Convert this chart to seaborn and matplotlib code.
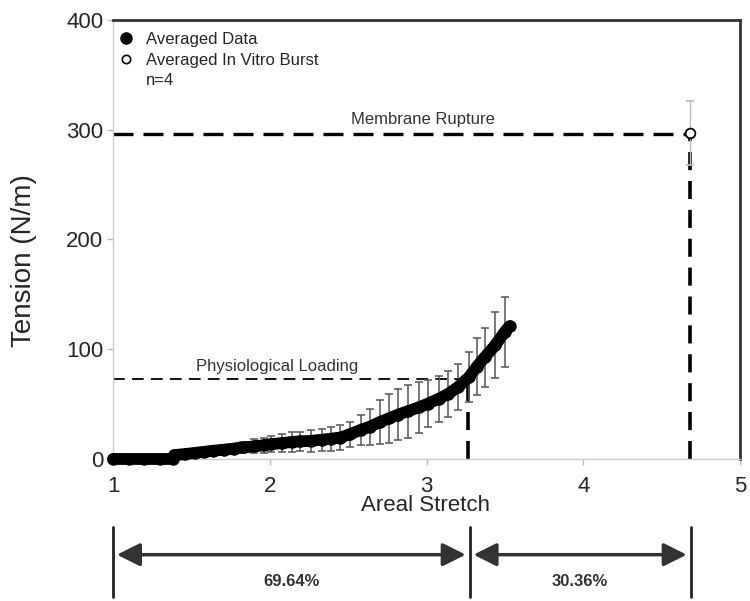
import numpy as np
import pandas as pd
import matplotlib.pyplot as plt
from matplotlib.lines import Line2D
import seaborn as sns

# averaged tension curve
stretch = [1.00, 1.10, 1.20, 1.30, 1.385, 1.39, 1.46,
           1.52, 1.58, 1.64, 1.71, 1.77, 1.83, 1.90, 1.96, 2.01, 2.08, 2.14,
           2.19, 2.26, 2.33, 2.39, 2.45, 2.51, 2.58, 2.64, 2.70, 2.76, 2.82,
           2.88, 2.95, 3.01, 3.08, 3.14, 3.20, 3.27, 3.32, 3.37, 3.44, 3.50, 3.53]
tension = [0, 0, 0, 0, 0, 3.5, 4.5,
           5.5, 6.5, 7.5, 8.5, 9.5, 10.5, 11.5, 12.5, 13.5, 14.5, 15.5,
           16, 16.5, 17.5, 18.5, 19.5, 22.5, 26.5, 29.5, 33.5, 37, 40.5,
           43.5, 47, 50.5, 55, 59.5, 65.5, 74.5, 84, 92.5, 104, 116, 121]
# error bars (shown from stretch 1.52 on)
err_x = stretch[7:40]
err_y = tension[7:40]
err_sd = [3, 3, 4, 4, 4.5, 5, 6.5, 7, 7, 8.5, 9,
          9, 10, 10, 11, 11.5, 11.5, 14, 16.5, 20, 22.5, 23,
          24, 23, 21.5, 21, 21, 21, 23, 26, 27, 30, 32]

# in vitro burst
burst_x = [4.68]
burst_y = [297]
burst_sd = [29]

physio_level = 73
physio_stretch = 3.265
rupture_level = 296
rupture_stretch = 4.68
bottom_marks = [1.0, 3.275, 4.685]
pct_labels = ['69.64%', '30.36%']

sns.set_style('white')
plt.rcParams['font.family'] = ['Liberation Sans', 'DejaVu Sans']

fig = plt.figure(figsize=(7.5, 6.01), dpi=100)
ax = fig.add_axes([0.1507, 0.2363, 0.836, 0.7304])

df = pd.DataFrame({'stretch': stretch, 'tension': tension})

ax.errorbar(err_x, err_y, yerr=err_sd, fmt='none', ecolor='#555555',
            elinewidth=1.1, capsize=3, capthick=1.1, zorder=2)
sns.lineplot(data=df, x='stretch', y='tension', color='black', linewidth=8.5,
             marker='o', markersize=9, markeredgewidth=0,
             solid_capstyle='round', ax=ax, zorder=3, clip_on=False)

ax.errorbar(burst_x, burst_y, yerr=burst_sd, fmt='o', color='#bbbbbb',
            mfc='white', mec='black', mew=1.3, ms=7, elinewidth=1,
            capsize=3, zorder=4)

# reference lines
ax.plot([1, physio_stretch], [physio_level] * 2, color='black', lw=1.3,
        ls=(0, (6.5, 4)), zorder=1)
ax.plot([physio_stretch] * 2, [0, physio_level], color='black', lw=2.6,
        ls=(0, (5, 3)), zorder=1)
ax.plot([1, rupture_stretch], [rupture_level] * 2, color='black', lw=2.4,
        ls=(0, (6, 3)), zorder=1)
ax.plot([rupture_stretch] * 2, [0, rupture_level], color='black', lw=2.6,
        ls=(0, (5, 3)), zorder=1)
ax.text(2.05, 84, 'Physiological Loading', fontsize=12, color='#333333',
        ha='center', va='center')
ax.text(2.98, 309, 'Membrane Rupture', fontsize=12, color='#333333',
        ha='center', va='center')

ax.set_xlim(1, 5)
ax.set_ylim(0, 400)
ax.set_xticks([1, 2, 3, 4, 5])
ax.set_yticks([0, 100, 200, 300, 400])
ax.tick_params(axis='both', labelsize=16, length=4, width=1, color='#bbbbbb',
               direction='out', bottom=True, left=True)
ax.tick_params(axis='x', pad=8)
ax.tick_params(axis='y', pad=3)
ax.set_xlabel('Areal Stretch', fontsize=16)
ax.set_ylabel('Tension (N/m)', fontsize=20)
ax.xaxis.set_label_coords(0.498, -0.082)
ax.yaxis.set_label_coords(-0.121, 0.453)

for s in ['left', 'bottom']:
    ax.spines[s].set_color('#cccccc')
    ax.spines[s].set_linewidth(1)
for s in ['top', 'right']:
    ax.spines[s].set_color('#333333')
    ax.spines[s].set_linewidth(2)

handles = [Line2D([], [], ls='none', marker='o', color='black', ms=8),
           Line2D([], [], ls='none', marker='o', mfc='white', mec='black',
                  mew=1.2, ms=6),
           Line2D([], [], ls='none')]
ax.legend(handles, ['Averaged Data', 'Averaged In Vitro Burst', 'n=4'],
          loc='upper left', bbox_to_anchor=(-0.012, 1.0), frameon=False,
          fontsize=12, handlelength=1, handletextpad=0.7, labelspacing=0.35,
          borderaxespad=0.3)

# bottom span annotation
tr = ax.get_xaxis_transform()
for xm in bottom_marks:
    ax.plot([xm, xm], [-0.155, -0.314], transform=tr, color='#222222',
            lw=2, clip_on=False)
spans = [(bottom_marks[0], bottom_marks[1]), (bottom_marks[1], bottom_marks[2])]
for (a, b), lab in zip(spans, pct_labels):
    ax.annotate('', xy=(b - 0.025, -0.218), xytext=(a + 0.025, -0.218),
                xycoords=tr, textcoords=tr, annotation_clip=False,
                arrowprops=dict(arrowstyle='<|-|>,head_length=0.7,head_width=0.35',
                                color='#333333', lw=2.5, mutation_scale=20,
                                shrinkA=0, shrinkB=0))
    ax.text((a + b) / 2, -0.278, lab, transform=tr, fontsize=12,
            fontweight='bold', color='#333333', ha='center', va='center')

fig.savefig('out.png', dpi=100)
